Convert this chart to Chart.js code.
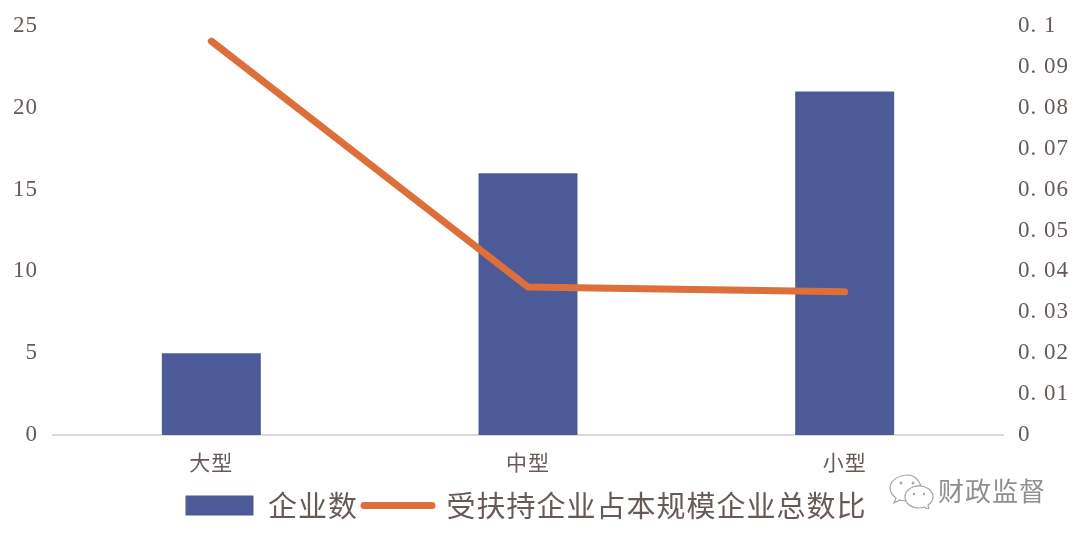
<!DOCTYPE html>
<html><head><meta charset="utf-8">
<script src="https://cdn.jsdelivr.net/npm/chart.js@4"></script>
<style>
html,body{margin:0;padding:0;background:#fff;overflow:hidden}
#wrap{position:relative;width:1080px;height:538px}
canvas{display:block}
#mark{position:absolute;left:938px;top:473px;font:26px "Noto Sans CJK SC";color:#8f8f8f;letter-spacing:1px;line-height:34px}
#icon{position:absolute;left:888px;top:473px}
</style></head><body>
<div id="wrap"><canvas id="c" width="1080" height="538"></canvas>
<svg id="icon" width="48" height="36" viewBox="0 0 48 36" fill="#fff" stroke="#a5a5a5" stroke-width="1.2">
<path d="M20 2C10 2 2 8 2 15c0 4 2 7 6 10l-2 5 6-3c2 .6 4 1 6 1C16 20 24 12 33 13 31 7 26 2 20 2z"/>
<path d="M31 13c-8 0-14 5-14 11s6 11 14 11c2 0 3 0 5-1l5 3-1-5c3-2 5-5 5-8 0-6-6-11-14-11z"/>
<circle cx="13" cy="10" r="1.4" fill="#a5a5a5" stroke="none"/><circle cx="25" cy="10" r="1.4" fill="#a5a5a5" stroke="none"/>
<circle cx="26" cy="21" r="1.2" fill="#a5a5a5" stroke="none"/><circle cx="36" cy="21" r="1.2" fill="#a5a5a5" stroke="none"/>
</svg>
<div id="mark">财政监督</div></div>
<script>
const categories = ["大型","中型","小型"];
const enterpriseCount = [5,16,21];
const supportedShare = [0.0963,0.0362,0.035];
const seriesNames = ["企业数","受扶持企业占本规模企业总数比"];
const leftTicks = ["0","5","10","15","20","25"];
const rightTicks = ["0","0. 01","0. 02","0. 03","0. 04","0. 05","0. 06","0. 07","0. 08","0. 09","0. 1"];
const barColor = "#4c5b97", lineColor = "#dd6f3a", textColor = "#665a57";
const fontFam = '"Liberation Serif","Noto Sans CJK SC",serif';
const spacing = {id:"spacing",
  beforeInit(c){c.ctx.letterSpacing="1px";},
  beforeUpdate(c){c.ctx.letterSpacing="1px";},
  afterLayout(c){c.legend.left-=14;c.legend.right-=14;},
  beforeDraw(c){c.ctx.letterSpacing="1px";}};
new Chart(document.getElementById("c"),{
  data:{labels:categories,datasets:[
    {type:"line",label:seriesNames[1],data:supportedShare,yAxisID:"y1",borderColor:lineColor,backgroundColor:lineColor,
     borderWidth:7,pointRadius:0,tension:0,borderCapStyle:"round",borderJoinStyle:"round",order:0},
    {type:"bar",label:seriesNames[0],data:enterpriseCount,yAxisID:"y",backgroundColor:barColor,
     barPercentage:0.3125,categoryPercentage:1,order:1}
  ]},
  options:{responsive:false,animation:false,
    layout:{padding:{top:26,left:0,right:0,bottom:8}},
    plugins:{title:{display:false},tooltip:{enabled:false},
      legend:{position:"bottom",
        labels:{usePointStyle:true,pointStyleWidth:68,boxHeight:20,padding:6,color:textColor,
          font:{family:'"Noto Sans CJK SC"',size:29},
          generateLabels(c){
            return [
              {text:seriesNames[0],fillStyle:barColor,strokeStyle:barColor,lineWidth:0,pointStyle:"rect",datasetIndex:1,fontColor:textColor},
              {text:seriesNames[1],fillStyle:lineColor,strokeStyle:lineColor,lineWidth:7,lineCap:"round",pointStyle:"line",datasetIndex:0,fontColor:textColor}
            ];
          }}}},
    scales:{
      x:{grid:{display:false,drawTicks:false},border:{color:"#d9d9d9",width:2},
        ticks:{color:textColor,padding:14,maxRotation:0,font:{family:'"Noto Sans CJK SC"',size:21}},
        afterFit(s){s.height=50;}},
      y:{position:"left",min:0,max:25,grid:{display:false,drawTicks:false},border:{display:false},
        ticks:{stepSize:5,color:textColor,padding:15,font:{family:fontFam,size:23},callback:(v,i)=>leftTicks[i]},
        afterFit(s){s.width=53;s.paddingTop=0;}},
      y1:{position:"right",min:0,max:0.1,grid:{display:false,drawTicks:false},border:{display:false},
        ticks:{stepSize:0.01,color:textColor,padding:15,font:{family:fontFam,size:23},callback:(v,i)=>rightTicks[i]},
        afterFit(s){s.width=77;s.paddingTop=0;}}
    }},
  plugins:[spacing]
});
</script></body></html>
